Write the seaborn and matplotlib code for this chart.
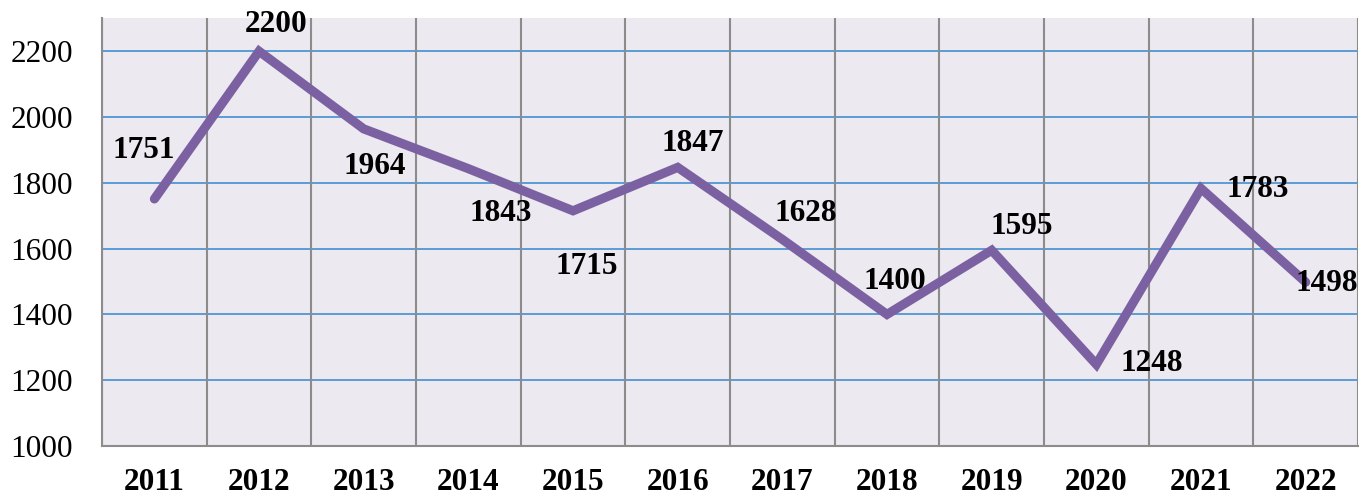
import matplotlib
matplotlib.use("Agg")
import matplotlib.pyplot as plt
import seaborn as sns
import pandas as pd
import numpy as np

# -------------------------------
# Data
# -------------------------------
anos = ["2011", "2012", "2013", "2014", "2015", "2016",
        "2017", "2018", "2019", "2020", "2021", "2022"]
valores = [1751, 2200, 1964, 1843, 1715, 1847,
           1628, 1400, 1595, 1248, 1783, 1498]
y_ticks = [1000, 1200, 1400, 1600, 1800, 2000, 2200]

# label offsets (points) relative to each point
offsets = [(-8, 35), (12, 19), (8, -27), (23, -32), (10, -40), (11, 17),
           (17, 19), (6, 24), (22, 17), (40, 1), (41, -1), (15, -1)]

df = pd.DataFrame({"ano": anos, "valor": valores})

# -------------------------------
# Style
# -------------------------------
sns.set_style("white")
plt.rcParams["font.family"] = ["Liberation Serif", "DejaVu Serif"]
plt.rcParams["text.color"] = "black"
plt.rcParams["xtick.labelcolor"] = "black"
plt.rcParams["ytick.labelcolor"] = "black"

fig, ax = plt.subplots(figsize=(13.61, 4.96), dpi=100)
fig.subplots_adjust(left=0.075, right=0.9978, top=0.963, bottom=0.1008)
ax.set_facecolor("#ECE9F0")

sns.lineplot(data=df, x="ano", y="valor", ax=ax, color="#7B61A2",
             linewidth=6.6, solid_joinstyle="miter", zorder=3)

ax.set_xlim(-0.5, len(anos) - 0.5)
ax.set_ylim(1000, 2300)
ax.set_yticks(y_ticks)
ax.set_yticklabels([str(v) for v in y_ticks], fontsize=22.5, color="black")

# horizontal grid (blue)
for v in y_ticks[1:]:
    ax.axhline(v, color="#5B9BD5", linewidth=1.4, zorder=1)

# vertical grid at category boundaries (gray)
bounds = np.arange(-0.5, len(anos), 1.0)
for b in bounds:
    ax.axvline(b, color="#8C8C8C", linewidth=1.5, zorder=1)

ax.set_xticks(range(len(anos)))
ax.set_xticklabels(anos, fontsize=22.5, fontweight="bold", color="black")
ax.set_xticks(bounds, minor=True)
ax.tick_params(axis="x", which="major", length=0, pad=16)
ax.tick_params(axis="x", which="minor", length=7, width=1.5,
               color="#8C8C8C", direction="out")
ax.tick_params(axis="y", length=7, width=1.5, color="#8C8C8C",
               direction="out", pad=14)

for s in ["top", "right"]:
    ax.spines[s].set_visible(False)
for s in ["left", "bottom"]:
    ax.spines[s].set_color("#8C8C8C")
    ax.spines[s].set_linewidth(1.5)

ax.set_xlabel("")
ax.set_ylabel("")

# data labels
for i, (v, off) in enumerate(zip(valores, offsets)):
    ax.annotate(str(v), xy=(i, v), xytext=off, textcoords="offset points",
                ha="center", va="center", fontsize=22.5, fontweight="bold",
                color="black", zorder=4)

plt.savefig("out.png", dpi=100)
